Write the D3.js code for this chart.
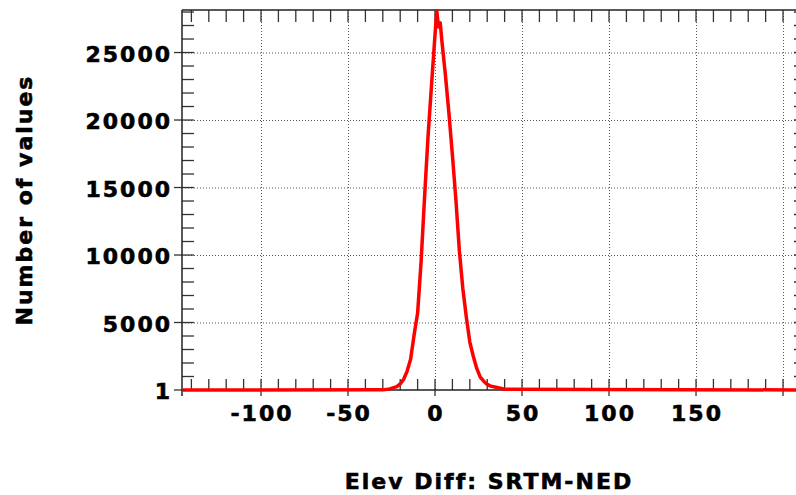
<!DOCTYPE html>
<html>
<head>
<meta charset="utf-8">
<script src="https://cdn.jsdelivr.net/npm/d3@7"></script>
<style>
body{margin:0;background:#fff}
svg{display:block;background:#fff}
text{font-family:"DejaVu Sans",Verdana,sans-serif;font-weight:bold;fill:#000;stroke:#000;stroke-width:0.6px;letter-spacing:2px;font-size:22px}
.grid{stroke:#555;stroke-dasharray:1,2;stroke-width:1;fill:none}
.tick{stroke:#333;stroke-width:1.3}
.frame{stroke:#222;stroke-width:1.5}
.hist{fill:none;stroke:#ff0000;stroke-width:3.5;stroke-linejoin:round}
</style>
</head>
<body>
<svg width="796" height="495"></svg>
<script>
// histogram: elevation difference and count
const diffs  = [-145, -30, -26, -22, -20, -18, -16, -14, -12, -10, -8, -6, -4, -2, 0, 1, 2, 3, 4, 6, 8, 10, 12, 14, 16, 18, 20, 22, 24, 26, 28, 30, 32, 35, 40, 213]
const counts = [1, 10, 80, 250, 450, 800, 1400, 2300, 4100, 5700, 9500, 14300, 18800, 22600, 26300, 28100, 26900, 27200, 25800, 23300, 20500, 17400, 14100, 10300, 7500, 5400, 3550, 2500, 1600, 950, 650, 420, 290, 200, 60, 1]

const xLabels = [-100, -50, 0, 50, 100, 150]
const xGrid = [-100, -50, 0, 50, 100, 150, 200]
const yLabels = [1, 5000, 10000, 15000, 20000, 25000]
const yGrid = [5000, 10000, 15000, 20000, 25000]
const xTitle = "Elev Diff: SRTM-NED"
const yTitle = "Number of values"

const data = diffs.map((d,i)=>({x:d, y:counts[i]}))

const svg = d3.select("svg")

//plot box
const pLeft = 182, pRight = 806, pTop = 10, pBottom = 390

//scales
const x = d3.scaleLinear()
	.domain([-145.4, 213.2])
	.range([pLeft, pRight])
const y = d3.scaleLinear()
	.domain([0, 28150])
	.range([pBottom, pTop])

//grid
svg.selectAll("line.gx")
	.data(xGrid)
	.enter()
	.append("line")
	.attr("class", "grid")
	.attr("x1", d=>x(d)+0.5).attr("x2", d=>x(d)+0.5)
	.attr("y1", pTop).attr("y2", pBottom)

svg.selectAll("line.gy")
	.data(yGrid)
	.enter()
	.append("line")
	.attr("class", "grid")
	.attr("x1", pLeft).attr("x2", pRight)
	.attr("y1", d=>y(d)+0.5).attr("y2", d=>y(d)+0.5)

//minor ticks every 10 on x, every 1000 on y
const xMinor = d3.range(-140, 211, 10)
const yMinor = d3.range(1000, 28001, 1000)

// bottom + top
svg.selectAll("line.bx")
	.data(xMinor)
	.enter()
	.append("line")
	.attr("class", "tick")
	.attr("x1", d=>x(d)).attr("x2", d=>x(d))
	.attr("y1", pBottom-11)
	.attr("y2", d=> d % 50 == 0 ? pBottom+6 : pBottom)

svg.selectAll("line.tx")
	.data(xMinor)
	.enter()
	.append("line")
	.attr("class", "tick")
	.attr("x1", d=>x(d)).attr("x2", d=>x(d))
	.attr("y1", pTop).attr("y2", pTop+12)

// left + right
svg.selectAll("line.ly")
	.data(yMinor)
	.enter()
	.append("line")
	.attr("class", "tick")
	.attr("x1", d=> d % 5000 == 0 ? pLeft-8 : pLeft)
	.attr("x2", pLeft+12)
	.attr("y1", d=>y(d)).attr("y2", d=>y(d))

svg.selectAll("line.ry")
	.data(yMinor)
	.enter()
	.append("line")
	.attr("class", "tick")
	.attr("x1", pRight-12).attr("x2", pRight)
	.attr("y1", d=>y(d)).attr("y2", d=>y(d))

// tick at 1
svg.append("line")
	.attr("class", "tick")
	.attr("x1", pLeft-8).attr("x2", pLeft)
	.attr("y1", y(1)).attr("y2", y(1))

//frame
svg.append("line").attr("class", "frame")
	.attr("x1", pLeft).attr("x2", pRight).attr("y1", pTop).attr("y2", pTop)
svg.append("line").attr("class", "frame")
	.attr("x1", pLeft).attr("x2", pRight).attr("y1", pBottom).attr("y2", pBottom)
svg.append("line").attr("class", "frame")
	.attr("x1", pLeft).attr("x2", pLeft).attr("y1", pTop).attr("y2", pBottom+6)
svg.append("line").attr("class", "frame")
	.attr("x1", pRight).attr("x2", pRight).attr("y1", pTop).attr("y2", pBottom)

//tick labels
svg.selectAll("text.xl")
	.data(xLabels)
	.enter()
	.append("text")
	.attr("x", d=>x(d)+1)
	.attr("y", 421)
	.style("text-anchor", "middle")
	.text(d=>d)

svg.selectAll("text.yl")
	.data(yLabels)
	.enter()
	.append("text")
	.attr("x", 172)
	.attr("y", d=>y(d)+9)
	.style("text-anchor", "end")
	.text(d=>d)

//axis titles
svg.append("text")
	.attr("x", (pLeft+796)/2)
	.attr("y", 489)
	.style("text-anchor", "middle")
	.text(xTitle)

svg.append("text")
	.attr("transform", `translate(32,${(pTop+pBottom)/2}) rotate(-90)`)
	.style("text-anchor", "middle")
	.text(yTitle)

//histogram line
const line = d3.line()
	.x(d=>x(d.x))
	.y(d=>y(d.y))

svg.append("path")
	.datum(data)
	.attr("class", "hist")
	.attr("d", line)
</script>
</body>
</html>
